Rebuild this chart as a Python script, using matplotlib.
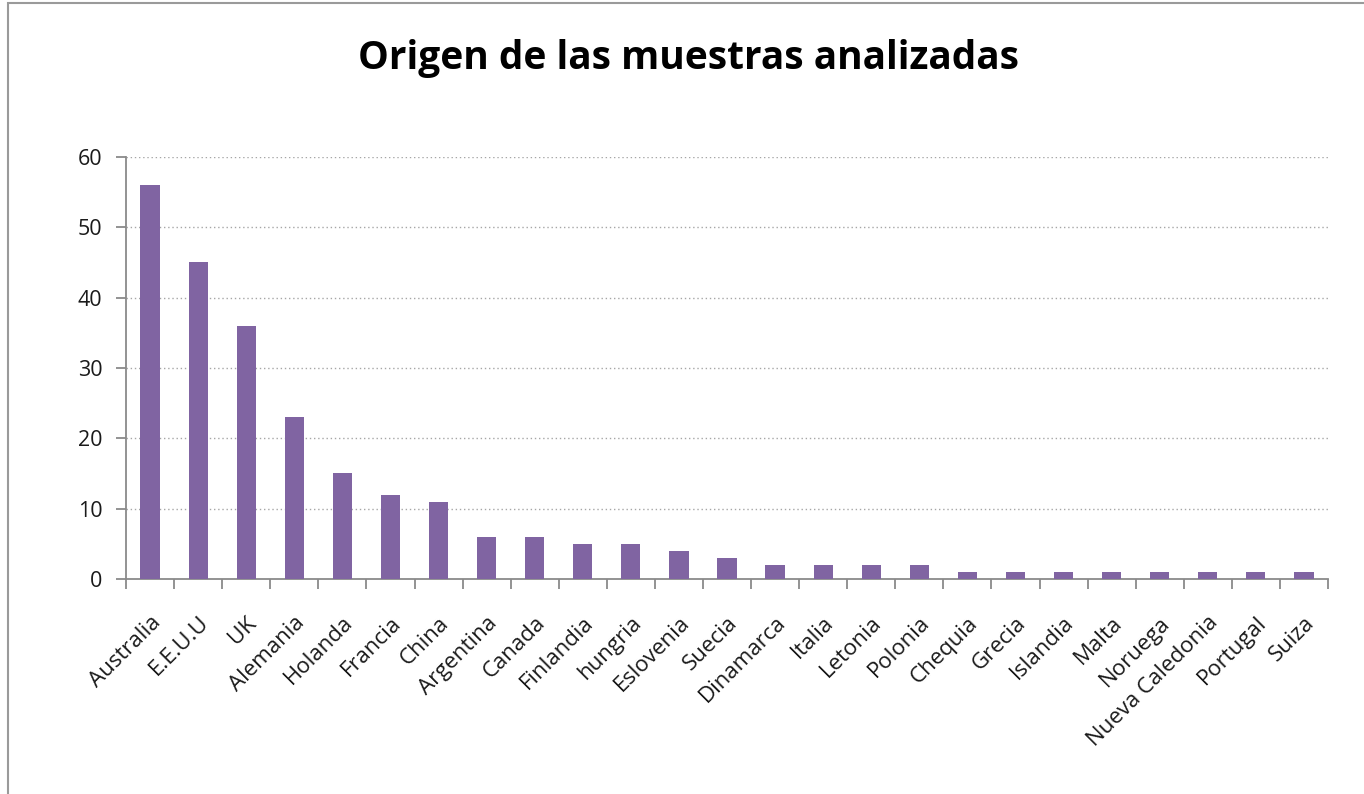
import matplotlib.pyplot as plt
from matplotlib.patches import Rectangle

paises = ['Australia', 'E.E.U.U', 'UK', 'Alemania', 'Holanda', 'Francia', 'China',
          'Argentina', 'Canada', 'Finlandia', 'hungria', 'Eslovenia', 'Suecia',
          'Dinamarca', 'Italia', 'Letonia', 'Polonia', 'Chequia', 'Grecia',
          'Islandia', 'Malta', 'Noruega', 'Nueva Caledonia', 'Portugal', 'Suiza']
muestras = [56, 45, 36, 23, 15, 12, 11, 6, 6, 5, 5, 4, 3, 2, 2, 2, 2,
            1, 1, 1, 1, 1, 1, 1, 1]

plt.rcParams['font.family'] = ['Open Sans', 'DejaVu Sans']

fig = plt.figure(figsize=(13.64, 7.94), dpi=100)
ax = fig.add_axes([0.0924, 0.2708, 0.8812, 0.5315])

x = range(len(paises))
ax.bar(x, muestras, width=0.4, color='#8064A2', zorder=3)

ax.set_xlim(-0.5, len(paises) - 0.5)
ax.set_ylim(0, 60)
ax.set_yticks(range(0, 61, 10))
ax.set_xticks(list(x))
ax.set_xticklabels(paises, rotation=45, ha='right', rotation_mode='anchor',
                   fontsize=16, color='#1a1a1a')
ax.set_xticks([i - 0.5 for i in range(len(paises) + 1)], minor=True)
ax.tick_params(axis='x', which='major', length=0, pad=24)
ax.tick_params(axis='x', which='minor', length=7, width=1.3, color='#8a8a8a')
ax.tick_params(axis='y', length=7, width=1.3, color='#8a8a8a', labelsize=15.5,
               labelcolor='#1a1a1a', pad=10)

for v in range(10, 61, 10):
    ax.axhline(v, color='#a6a6a6', lw=1, ls=(0, (1, 2)), zorder=1)

for s in ['top', 'right']:
    ax.spines[s].set_visible(False)
for s in ['left', 'bottom']:
    ax.spines[s].set_color('#8a8a8a')
    ax.spines[s].set_linewidth(1.3)

fig.text(0.505, 0.926, 'Origen de las muestras analizadas', ha='center', va='center',
         fontsize=28, fontweight='bold', color='black')

# marco del grafico
fig.patches.append(Rectangle((8 / 1364, -0.05), 1.1, 1.05 - 3 / 794, transform=fig.transFigure,
                             fill=False, edgecolor='#9a9a9a', lw=1.5))

fig.savefig('out.png', dpi=100)
